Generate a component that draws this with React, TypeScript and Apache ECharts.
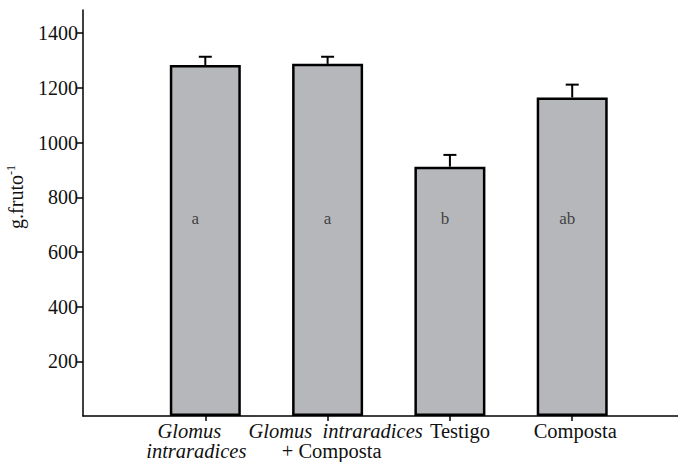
import React, { useEffect, useRef } from "react";
import * as echarts from "echarts";

const categories = [
  "Glomus intraradices",
  "Glomus intraradices + Composta",
  "Testigo",
  "Composta",
];
const means = [1284, 1288, 912, 1165];
const errors = [30, 26, 43, 47];
const letters = ["a", "a", "b", "ab"];
const letterLevel = 724;
const yTicks = [200, 400, 600, 800, 1000, 1200, 1400];
const xPositions = [1, 2, 3, 4];

const labelsA: Record<number, string> = {
  1: "{g1a|Glomus}\n{g1b|intraradices}",
  3: "{t|Testigo}",
};
const labelsB: Record<number, string> = {
  2: "{g2a|Glomus  intraradices}\n{g2b|+ Composta}",
  4: "{c|Composta}",
};

const FONT = "Liberation Serif";

export default function App() {
  const ref = useRef<HTMLDivElement>(null);
  useEffect(() => {
    if (!ref.current) return;
    const chart = echarts.init(ref.current, undefined, { renderer: "svg" });
    const base = { fontFamily: FONT, fontSize: 20.5, color: "#111", lineHeight: 20 };
    const rich = {
      g1a: { ...base, fontStyle: "italic", padding: [0, 32, 0, 0] },
      g1b: { ...base, fontStyle: "italic", padding: [0, 18, 0, 0] },
      g2a: { ...base, fontStyle: "italic", padding: [0, 0, 0, 16] },
      g2b: { ...base, padding: [0, 0, 0, 8] },
      t: { ...base, padding: [0, 0, 0, 20] },
      c: { ...base, padding: [0, 0, 0, 6] },
    };
    const xCommon = {
      type: "value",
      min: 0,
      max: 4.865,
      position: "bottom",
      splitLine: { show: false },
    };
    chart.setOption({
      animation: false,
      backgroundColor: "#fff",
      grid: {
        left: 83,
        right: 0,
        top: 10,
        bottom: 46,
        containLabel: false,
        outerBoundsMode: "none",
      },
      xAxis: [
        {
          ...xCommon,
          axisLine: { show: true, lineStyle: { color: "#000", width: 1.5 } },
          axisTick: {
            show: true,
            length: 5,
            customValues: xPositions,
            lineStyle: { color: "#000", width: 1.5 },
          },
          axisLabel: {
            customValues: [1, 3],
            margin: 5,
            showMinLabel: true,
            showMaxLabel: true,
            formatter: (v: number) => labelsA[Math.round(v)] ?? "",
            rich,
          },
        },
        {
          ...xCommon,
          axisLine: { show: false },
          axisTick: { show: false },
          axisLabel: {
            customValues: [2, 4],
            margin: 5,
            showMinLabel: true,
            showMaxLabel: true,
            formatter: (v: number) => labelsB[Math.round(v)] ?? "",
            rich,
          },
        },
      ],
      yAxis: {
        type: "value",
        min: 0,
        max: 1485,
        interval: 200,
        splitLine: { show: false },
        axisLine: { show: true, lineStyle: { color: "#000", width: 1.5 } },
        axisTick: {
          show: true,
          length: 6,
          customValues: yTicks,
          lineStyle: { color: "#000", width: 1.5 },
        },
        axisLabel: {
          customValues: yTicks,
          margin: 5,
          fontFamily: FONT,
          fontSize: 20,
          color: "#111",
          formatter: (v: number) => (v === 0 ? "" : String(v)),
        },
        name: "g.fruto{sup|-1}",
        nameLocation: "middle",
        nameGap: 50,
        nameTextStyle: {
          fontFamily: FONT,
          fontSize: 20,
          color: "#111",
          lineHeight: 22,
          padding: [0, 0, 0, 32],
          rich: {
            sup: { fontFamily: FONT, fontSize: 12, color: "#111", verticalAlign: "top", lineHeight: 14 },
          },
        },
      },
      series: [
        {
          type: "bar",
          xAxisIndex: 0,
          data: means.map((m, i) => [xPositions[i], m]),
          barWidth: 71,
          itemStyle: { color: "#b6b7bb", borderColor: "#000", borderWidth: 2.5 },
          z: 2,
        },
        {
          type: "custom",
          xAxisIndex: 0,
          data: means.map((m, i) => [xPositions[i], m, errors[i]]),
          z: 3,
          renderItem: (params: any, api: any) => {
            const x = api.value(0);
            const m = api.value(1);
            const e = api.value(2);
            const b = api.coord([x, m]);
            const t = api.coord([x, m + e]);
            return {
              type: "group",
              children: [
                { type: "line", shape: { x1: b[0], y1: b[1], x2: t[0], y2: t[1] }, style: { stroke: "#000", lineWidth: 2 } },
                { type: "line", shape: { x1: t[0] - 6.5, y1: t[1], x2: t[0] + 6.5, y2: t[1] }, style: { stroke: "#000", lineWidth: 2 } },
              ],
            };
          },
        },
        {
          type: "scatter",
          xAxisIndex: 0,
          symbolSize: 0,
          z: 4,
          data: letters.map((l, i) => ({
            value: [xPositions[i], letterLevel],
            name: l,
            label: { offset: [[-10, 0, -5, -5][i], 0] },
          })),
          label: {
            show: true,
            position: "inside",
            formatter: (p: any) => p.name,
            fontFamily: FONT,
            fontSize: 17,
            color: "#222",
          },
        },
      ],
    });
    return () => chart.dispose();
  }, []);
  return (
    <div
      ref={ref}
      style={{ position: "absolute", left: 0, top: 0, width: 678, height: 462 }}
    />
  );
}
